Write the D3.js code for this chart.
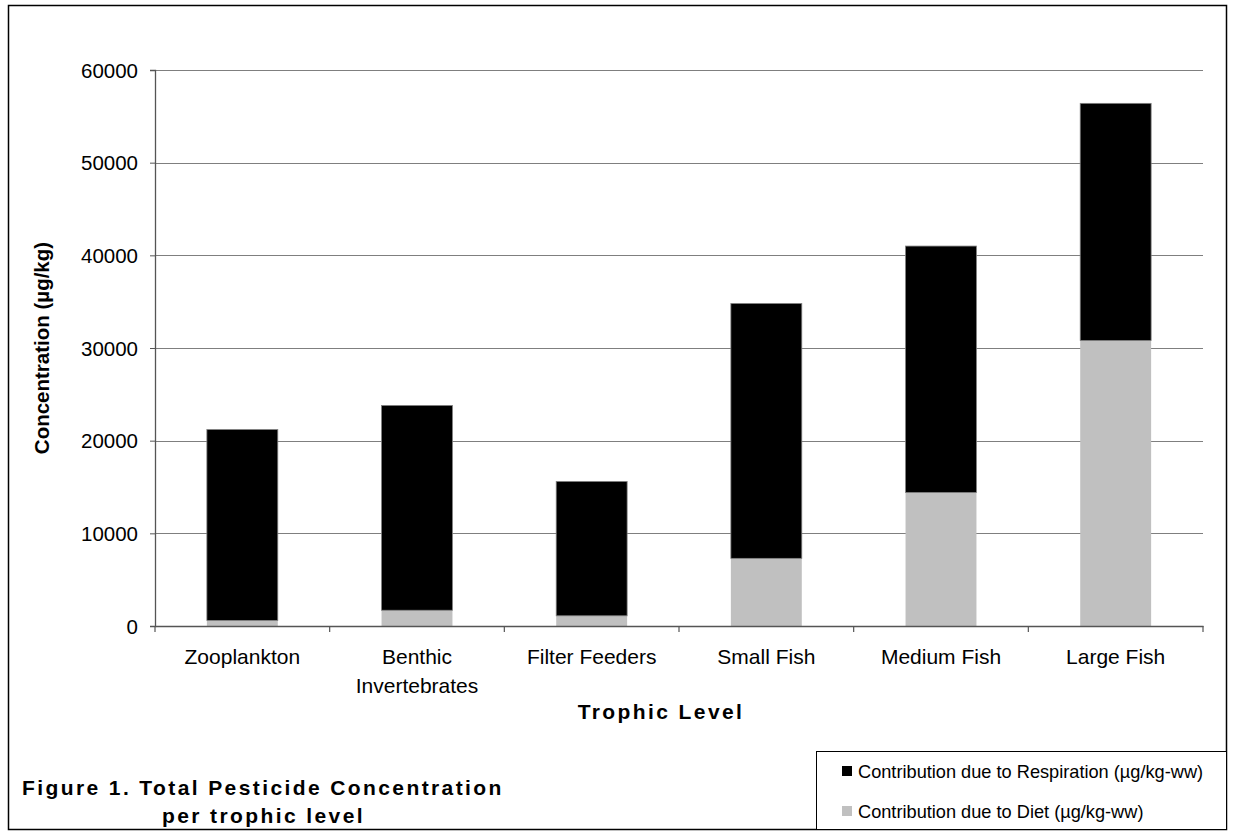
<!DOCTYPE html>
<html><head><meta charset="utf-8">
<script src="https://cdn.jsdelivr.net/npm/d3@7"></script>
<style>
html,body{margin:0;padding:0;background:#fff;}
svg{display:block;font-family:"Liberation Sans",Arial,sans-serif;}
</style></head>
<body><svg id="c" width="1235" height="834"></svg>
<script>
const categories = ["Zooplankton", "Benthic\nInvertebrates", "Filter Feeders", "Small Fish", "Medium Fish", "Large Fish"];
const dietValues = [600, 1700, 1100, 7300, 14400, 30800];
const respirationValues = [20600, 22100, 14500, 27500, 26600, 25600];
const yTicks = [0, 10000, 20000, 30000, 40000, 50000, 60000];
const seriesNames = ["Contribution due to Respiration (µg/kg-ww)", "Contribution due to Diet (µg/kg-ww)"];
const seriesColors = ["#000000", "#C0C0C0"];

(function() {
const FONT = "Liberation Sans, Arial, sans-serif";
const svg = d3.select("#c");
svg.append("rect").attr("x", 8.5).attr("y", 5.5).attr("width", 1218).attr("height", 824)
  .attr("fill", "#fff").attr("stroke", "#000").attr("stroke-width", 1.5);

const pLeft = 155, pRight = 1203, pTop = 70, pBottom = 626;
const x = d3.scaleBand().domain(categories).range([pLeft, pRight]).paddingInner(0.594).paddingOuter(0.297);
const y = d3.scaleLinear().domain([0, 60000]).range([pBottom, pTop]);

svg.append("g").selectAll("line").data(yTicks.filter(d => d > 0)).join("line")
  .attr("x1", pLeft).attr("x2", pRight).attr("y1", d => Math.round(y(d)) + 0.5).attr("y2", d => Math.round(y(d)) + 0.5)
  .attr("stroke", "#7f7f7f").attr("stroke-width", 1.2);

const rows = categories.map((c, i) => ({cat: c, diet: dietValues[i], resp: respirationValues[i]}));
const stack = d3.stack().keys(["diet", "resp"])(rows);
const colorOf = {diet: seriesColors[1], resp: seriesColors[0]};
svg.append("g").selectAll("g").data(stack).join("g")
  .attr("fill", d => colorOf[d.key])
  .attr("stroke", d => d.key === "resp" ? "#808080" : "none")
  .attr("stroke-width", 0.8)
  .selectAll("rect").data(d => d).join("rect")
  .attr("x", d => x(d.data.cat)).attr("width", x.bandwidth())
  .attr("y", d => y(d[1])).attr("height", d => y(d[0]) - y(d[1]));

const yAxis = d3.axisLeft(y).tickValues(yTicks).tickSize(5).tickPadding(12).tickFormat(d3.format("d"));
const gy = svg.append("g").attr("transform", `translate(${pLeft},0)`).call(yAxis);
gy.attr("font-family", FONT).attr("font-size", 20.5);
gy.select(".domain").attr("stroke", "#555").attr("stroke-width", 1.3);
gy.selectAll(".tick line").attr("stroke", "#555");
gy.selectAll(".tick text").attr("fill", "#000").attr("dy", "0.35em");

const xAxis = d3.axisBottom(x).tickSize(0).tickPadding(0);
const gx = svg.append("g").attr("transform", `translate(0,${pBottom})`).call(xAxis);
gx.attr("font-family", FONT).attr("font-size", 21);
gx.select(".domain").attr("stroke", "#555").attr("stroke-width", 1.3);
gx.selectAll(".tick text").remove();
gx.selectAll(".tick").each(function(d) {
  const t = d3.select(this).append("text").attr("fill", "#000").attr("text-anchor", "middle");
  d.split("\n").forEach((s, i) => t.append("tspan").attr("x", 0).attr("y", 38 + i * 29).text(s));
});
const step = x.step();
svg.append("g").selectAll("line").data(d3.range(categories.length + 1)).join("line")
  .attr("x1", i => pLeft + i * step).attr("x2", i => pLeft + i * step)
  .attr("y1", pBottom).attr("y2", pBottom + 6).attr("stroke", "#555").attr("stroke-width", 1.2);

svg.append("text").attr("transform", `translate(49,${(pTop + pBottom) / 2}) rotate(-90)`)
  .attr("text-anchor", "middle").attr("font-weight", "bold").attr("font-size", 20.5).text("Concentration (µg/kg)");
svg.append("text").attr("x", 661).attr("y", 719).attr("text-anchor", "middle")
  .attr("font-weight", "bold").attr("font-size", 21).attr("letter-spacing", 2.4).text("Trophic Level");

svg.append("text").attr("x", 22).attr("y", 795).attr("font-weight", "bold").attr("font-size", 21)
  .attr("letter-spacing", 2.4).text("Figure 1. Total Pesticide Concentration");
svg.append("text").attr("x", 162).attr("y", 823).attr("font-weight", "bold")
  .attr("font-size", 21).attr("letter-spacing", 2.4).text("per trophic level");

const lg = svg.append("g");
lg.append("rect").attr("x", 816.5).attr("y", 751.5).attr("width", 410).attr("height", 78)
  .attr("fill", "#fff").attr("stroke", "#000").attr("stroke-width", 1);
seriesNames.forEach((n, i) => {
  lg.append("rect").attr("x", 842).attr("y", 766 + i * 40).attr("width", 10).attr("height", 10).attr("fill", seriesColors[i]);
  lg.append("text").attr("x", 858).attr("y", 778 + i * 40).attr("font-size", 18.2).attr("fill", "#000").text(n);
});
})();
</script></body></html>
